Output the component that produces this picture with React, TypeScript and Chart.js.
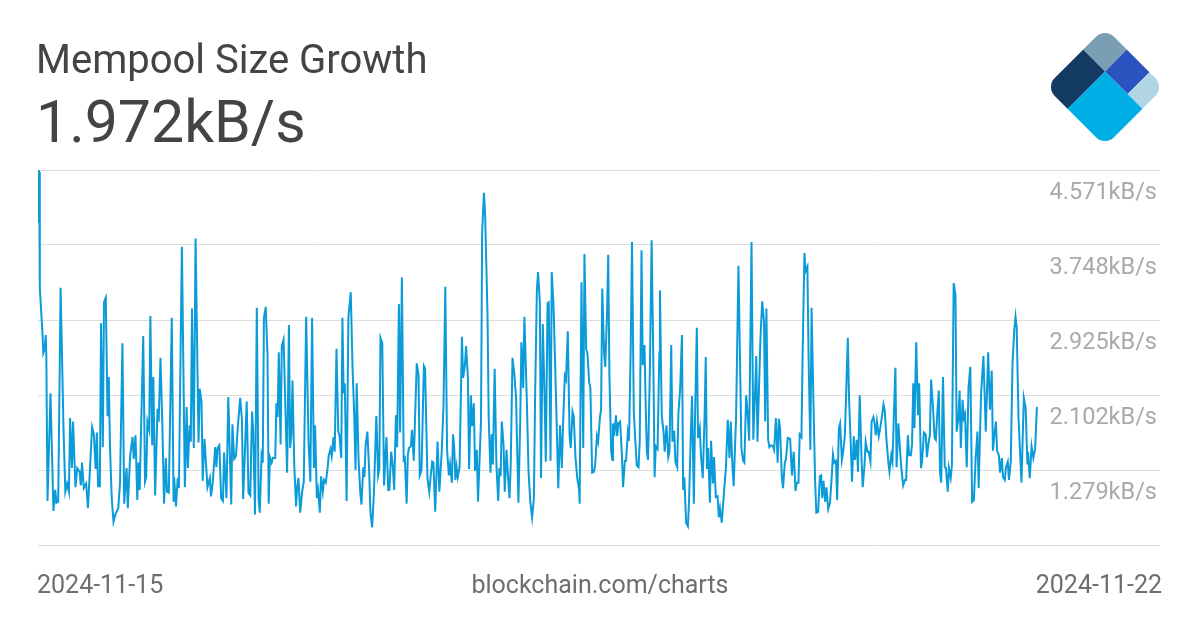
import React, { useEffect, useRef } from "react";
import { Chart, registerables } from "chart.js";

Chart.register(...registerables);

const chartTitle = "Mempool Size Growth";
const latestValueLabel = "1.972kB/s";
const startDateLabel = "2024-11-15";
const endDateLabel = "2024-11-22";
const sourceLabel = "blockchain.com/charts";

// y grid values (kB/s) and their labels; bottom grid line is unlabeled
const yTickValues = [0.456, 1.279, 2.102, 2.925, 3.748, 4.571];
const yTickLabels = ["", "1.279kB/s", "2.102kB/s", "2.925kB/s", "3.748kB/s", "4.571kB/s"];

// time axis: hours since 2024-11-15 00:00 (axis runs a little past the last sample)
const xAxisMaxHours = 188.7;

const hours = [
  0, 0.1, 0.2, 0.3, 0.7, 0.9, 1.1, 1.3, 1.4, 1.6,
  2.1, 2.6, 2.9, 3.1, 3.4, 3.8, 4.3, 4.6, 4.9, 5.2,
  5.4, 5.7, 5.9, 6.3, 6.6, 7.0, 7.2, 7.4, 7.7, 8.1,
  8.4, 9.1, 9.4, 9.7, 9.9, 10.1, 10.4, 10.6, 10.9, 11.1,
  11.4, 11.7, 11.9, 12.1, 12.4, 12.7, 13.0, 13.5, 13.8, 14.2,
  14.5, 14.9, 15.1, 15.5, 15.9, 16.1, 16.4, 16.7, 16.9, 17.1,
  17.7, 18.0, 18.2, 18.4, 18.7, 18.9, 19.2, 19.4, 19.7, 20.1,
  20.3, 20.6, 20.9, 21.2, 21.5, 21.7, 22.0, 22.5, 22.8, 22.9,
  23.2, 23.5, 23.7, 24.2, 24.7, 25.0, 25.2, 25.5, 25.7, 25.9,
  26.2, 26.5, 27.0, 27.2, 27.5, 27.7, 28.0, 28.5, 28.9, 29.1,
  29.4, 29.8, 30.0, 30.2, 30.5, 30.8, 31.1, 31.3, 31.7, 32.0,
  32.5, 32.7, 33.0, 33.3, 33.6, 34.0, 34.3, 34.5, 34.8, 35.1,
  35.4, 35.7, 36.0, 36.2, 36.5, 36.8, 37.1, 37.3, 37.6, 37.8,
  38.0, 38.3, 38.6, 38.8, 39.0, 39.3, 39.5, 39.9, 40.1, 40.3,
  40.5, 40.8, 41.0, 41.3, 41.6, 41.9, 42.2, 42.4, 42.6, 42.8,
  43.1, 43.4, 43.6, 43.8, 44.1, 44.4, 44.7, 45.1, 45.5, 45.8,
  46.1, 46.4, 46.6, 46.9, 47.1, 47.4, 47.6, 47.9, 48.1, 48.4,
  48.7, 48.9, 49.2, 49.4, 49.7, 49.9, 50.2, 50.5, 50.7, 51.0,
  51.2, 51.4, 51.6, 51.9, 52.2, 52.6, 52.9, 53.2, 53.4, 53.6,
  53.9, 54.2, 54.4, 54.7, 54.9, 55.1, 55.4, 55.7, 55.9, 56.2,
  56.5, 56.9, 57.2, 57.4, 57.6, 57.9, 58.2, 58.4, 58.6, 58.9,
  59.1, 59.4, 59.7, 59.9, 60.2, 60.4, 60.7, 60.9, 61.2, 61.5,
  61.7, 62.0, 62.2, 62.4, 62.7, 62.9, 63.2, 63.7, 64.0, 64.2,
  64.5, 64.9, 65.1, 65.5, 65.8, 66.0, 66.3, 66.5, 66.8, 67.2,
  67.5, 67.9, 68.2, 68.5, 68.8, 69.1, 69.3, 69.6, 69.8, 70.0,
  70.2, 70.4, 70.6, 70.9, 71.3, 71.5, 71.8, 72.0, 72.3, 72.5,
  72.8, 73.0, 73.3, 73.5, 73.8, 74.0, 74.5, 74.7, 75.0, 75.2,
  75.6, 75.8, 76.1, 76.3, 76.5, 76.8, 77.1, 77.4, 77.6, 77.8,
  78.0, 78.3, 78.5, 78.8, 79.0, 79.3, 79.5, 79.8, 80.1, 80.4,
  80.8, 81.1, 81.3, 81.6, 81.8, 82.2, 82.5, 82.8, 83.1, 83.4,
  83.6, 83.9, 84.1, 84.4, 84.6, 84.9, 85.2, 85.4, 85.7, 85.9,
  86.2, 86.4, 86.7, 87.1, 87.5, 87.8, 88.1, 88.3, 88.6,
  88.8, 89.1, 89.4, 89.6, 89.9, 90.1, 90.4, 90.7, 91.0, 91.1,
  91.4, 91.7, 91.9, 92.2, 92.4, 92.7, 92.9, 93.2, 93.5, 93.7,
  94.0, 94.2, 94.5, 94.7, 94.9, 95.2, 95.4, 95.7, 95.9, 96.1,
  96.4, 96.6, 96.7, 96.9, 97.2, 97.4, 97.6, 97.9, 98.2, 98.4,
  98.7, 98.9, 99.2, 99.4, 99.7, 99.9, 100.2, 100.5, 100.7, 101.0,
  101.2, 101.5, 101.7, 102.0, 102.2, 102.4, 102.6, 102.9, 103.2, 103.5,
  103.7, 103.9, 104.2, 104.5, 104.6, 104.9, 105.2, 105.4, 105.7, 106.0,
  106.2, 106.5, 106.7, 107.0, 107.2, 107.5, 107.7, 108.0, 108.3, 108.5,
  108.7, 109.0, 109.3, 109.5, 109.8, 110.0, 110.3, 110.5, 110.8, 111.0,
  111.3, 111.5, 111.8, 112.1, 112.3, 112.5, 112.7, 113.0, 113.2, 113.5,
  113.7, 114.0, 114.3, 114.5, 114.7, 115.0, 115.3, 115.7, 116.0, 116.3,
  116.5, 116.8, 117.0, 117.4, 117.8, 118.1, 118.3, 118.6, 118.8, 119.1,
  119.4, 119.6, 120.0, 120.3, 120.6, 120.8, 121.0, 121.5, 121.8, 122.1,
  122.3, 122.5, 122.8, 123.0, 123.3, 123.6, 123.8, 124.1, 124.4, 124.6,
  124.8, 125.1, 125.3, 125.6, 125.8, 126.1, 126.5, 126.8, 127.1, 127.4,
  127.6, 127.9, 128.1, 128.4, 128.6, 128.9, 129.1, 129.4, 129.6, 129.9,
  130.1, 130.4, 130.7, 130.9, 131.2, 131.5, 131.7, 131.9, 132.1, 132.4,
  132.6, 132.9, 133.2, 133.5, 133.7, 133.9, 134.2, 134.4, 134.7, 134.9,
  135.2, 135.4, 135.7, 136.2, 136.4, 136.7, 136.9, 137.2, 137.4, 137.7,
  137.9, 138.2, 138.5, 138.7, 139.0, 139.2, 139.5, 139.7, 140.0, 140.2,
  140.5, 140.7, 140.9, 141.1, 141.4, 141.6, 141.9, 142.2, 142.4, 142.7,
  143.0, 143.2, 143.5, 143.7, 144.2, 144.4, 144.7, 145.0, 145.2, 145.5,
  145.8, 146.0, 146.3, 146.5, 146.8, 147.0, 147.2, 147.4, 147.7, 148.0,
  148.2, 148.5, 148.7, 149.0, 149.3, 149.5, 149.8, 150.0, 150.2, 150.5,
  150.8, 151.0, 151.3, 151.5, 151.7, 151.9, 152.2, 152.5, 152.7, 153.0,
  153.2, 153.5, 153.7, 154.0, 154.3, 154.5, 154.8, 155.0, 155.2, 155.5,
  155.7, 155.9, 156.2, 156.5, 156.8, 157.1, 157.4, 157.7, 158.0, 158.2,
  158.6, 159.0, 159.4, 159.8, 160.1, 160.4, 160.6, 160.9, 161.1, 161.3,
  161.6, 161.8, 162.1, 162.3, 162.6, 162.8, 163.1, 163.3, 163.6, 163.9,
  164.2, 164.4, 164.6, 164.9, 165.4, 165.8, 166.1, 166.4, 166.5, 166.8,
  167.1, 167.4, 167.7, 168.0,
];

// mempool size growth, kB/s
const growthKBs = [
  4.00, 4.57, 4.55, 3.28, 2.84, 2.56, 2.60, 2.76, 2.54, 0.94,
  2.12, 0.83, 1.06, 0.92, 0.93, 3.28, 1.70, 1.04, 1.13, 1.04,
  1.85, 1.30, 1.81, 1.09, 1.30, 1.26, 1.11, 1.36, 1.08, 1.13,
  0.86, 1.75, 1.67, 1.29, 1.69, 1.10, 1.10, 2.89, 1.53, 3.12,
  3.17, 1.87, 2.30, 1.55, 0.97, 0.71, 0.79, 0.86, 1.15, 2.67,
  0.91, 1.30, 0.86, 1.44, 1.64, 1.40, 1.66, 0.95, 1.36, 1.06,
  2.75, 1.15, 1.20, 1.81, 1.72, 2.97, 1.55, 2.30, 1.00, 1.95,
  1.81, 2.51, 1.81, 0.91, 1.41, 1.04, 1.03, 2.95, 0.93, 1.20,
  0.88, 1.19, 1.08, 3.73, 1.09, 1.97, 1.30, 1.77, 1.59, 3.05,
  1.52, 3.82, 1.58, 2.17, 2.03, 1.16, 1.62, 1.09, 1.19, 0.99,
  1.15, 1.53, 1.31, 1.52, 1.55, 0.97, 0.94, 1.47, 0.97, 2.08,
  0.90, 1.78, 1.40, 1.43, 1.75, 2.07, 1.83, 0.96, 1.48, 2.03,
  1.03, 1.00, 1.92, 1.70, 0.79, 3.06, 0.97, 0.81, 1.43, 1.36,
  2.95, 3.07, 2.54, 0.91, 1.42, 1.36, 1.41, 1.41, 2.01, 1.86,
  2.57, 1.56, 2.64, 2.71, 1.99, 1.25, 2.87, 1.52, 1.66, 2.26,
  1.33, 0.88, 1.10, 1.19, 0.81, 1.03, 1.15, 2.96, 1.58, 1.15,
  2.95, 1.30, 1.77, 0.97, 1.06, 0.81, 1.21, 1.04, 1.17, 1.14,
  1.30, 1.44, 1.51, 1.43, 1.64, 1.48, 2.61, 1.70, 1.66, 1.41,
  2.95, 2.12, 2.23, 0.94, 2.95, 3.23, 2.40, 1.85, 1.28, 2.23,
  1.41, 1.03, 0.90, 1.31, 1.20, 1.55, 1.70, 1.26, 0.82, 0.65,
  1.04, 1.87, 1.22, 1.29, 2.73, 2.67, 1.11, 1.39, 1.64, 1.06,
  1.06, 1.48, 1.30, 1.06, 1.88, 1.53, 3.10, 1.69, 3.39, 1.39,
  1.41, 0.91, 1.45, 1.52, 1.54, 1.72, 1.38, 2.45, 2.32, 1.22,
  1.28, 2.42, 2.39, 1.19, 1.04, 1.18, 1.37, 1.36, 0.82, 1.59,
  1.04, 1.48, 1.99, 3.29, 1.50, 1.22, 1.34, 1.14, 1.67, 1.52,
  1.17, 1.31, 1.20, 1.31, 2.74, 2.29, 2.43, 2.64, 2.29, 1.29,
  2.10, 1.76, 2.01, 1.27, 1.50, 0.93, 1.81, 3.89, 4.32, 4.08,
  2.98, 1.85, 1.25, 1.67, 1.34, 2.39, 1.33, 0.94, 1.30, 1.21,
  1.81, 1.55, 1.04, 1.50, 1.25, 0.97, 1.33, 2.51, 2.34, 2.07,
  0.92, 1.81, 2.68, 2.18, 2.96, 2.07, 1.26, 0.93, 0.76, 0.97,
  2.07, 3.25, 3.45, 3.12, 1.19, 2.88, 2.07, 1.37, 3.11, 3.12,
  1.38, 3.45, 3.09, 2.13, 1.08, 1.77, 1.30, 1.77, 2.31,
  2.27, 2.80, 1.66, 1.52, 1.92, 1.87, 1.41, 1.19, 1.06, 0.91,
  3.34, 1.52, 3.65, 2.60, 2.56, 2.24, 2.18, 1.25, 1.26, 1.33,
  1.65, 1.59, 1.85, 1.94, 3.27, 2.57, 2.41, 3.00, 3.64, 2.32,
  1.48, 1.39, 1.79, 1.65, 1.88, 1.65, 1.79, 1.81, 1.44, 1.09,
  1.38, 1.38, 1.69, 1.60, 2.68, 3.78, 1.92, 1.55, 1.33, 1.31,
  1.59, 3.69, 2.43, 2.65, 1.99, 1.48, 1.39, 2.35, 3.80, 2.40,
  1.20, 1.54, 1.51, 2.57, 3.25, 1.88, 1.70, 1.48, 1.77, 1.42,
  1.48, 2.65, 1.59, 1.71, 1.37, 1.31, 1.90, 2.17, 2.76, 1.06,
  1.20, 0.70, 0.66, 0.95, 1.70, 2.09, 0.91, 1.85, 2.84, 1.63,
  1.74, 1.44, 1.19, 1.85, 2.52, 1.29, 1.52, 0.92, 1.60, 1.13,
  1.42, 0.98, 0.99, 0.76, 0.86, 0.70, 0.97, 1.31, 1.83, 1.41,
  1.81, 1.31, 1.10, 1.85, 3.52, 2.35, 1.52, 1.38, 1.36, 2.10,
  1.85, 1.60, 3.78, 1.61, 2.13, 2.53, 1.59, 2.72, 3.13, 2.90,
  1.81, 3.05, 1.61, 1.53, 1.55, 1.54, 1.50, 1.85, 1.36, 1.84,
  1.74, 1.20, 1.08, 1.36, 1.40, 1.63, 1.62, 1.22, 1.48, 1.05,
  1.14, 1.14, 1.67, 1.64, 2.57, 3.66, 3.46, 3.51, 2.51, 1.50,
  3.06, 2.07, 1.15, 0.81, 0.82, 1.21, 1.22, 0.97, 1.16, 0.93,
  1.09, 0.85, 0.92, 1.22, 1.45, 1.36, 1.38, 0.95, 1.74, 1.79,
  1.39, 1.47, 1.66, 2.73, 2.07, 1.55, 1.15, 1.65, 1.39, 1.61,
  1.26, 2.10, 1.41, 1.09, 1.33, 1.59, 1.48, 1.48, 1.37, 1.81,
  1.86, 1.79, 1.66, 1.81, 1.65, 1.72, 1.85, 2.00, 1.94, 1.61,
  1.37, 1.26, 1.44, 1.37, 2.40, 1.31, 1.79, 1.48, 1.30, 1.11,
  1.17, 1.17, 1.66, 1.44, 1.44, 1.56, 2.23, 1.74, 2.68, 1.88,
  2.23, 1.30, 1.39, 1.69, 1.67, 1.42, 1.59, 1.66, 2.27, 1.99,
  1.63, 1.61, 1.96, 2.15, 1.26, 1.14, 2.30, 1.31, 1.30, 1.04,
  1.30, 1.19, 1.33, 3.33, 3.20, 1.70, 1.85, 2.15, 1.52, 2.05,
  1.85, 1.89, 1.31, 2.19, 2.41, 0.93, 0.95, 1.41, 1.70, 1.08,
  2.10, 2.53, 1.70, 2.57, 1.94, 2.37, 1.49, 1.70, 1.81, 1.49,
  1.44, 1.25, 1.41, 1.20, 1.17, 1.31, 1.37, 1.17, 1.37, 2.46,
  2.82, 2.96, 2.84, 1.86, 1.14, 2.07, 1.96, 1.34, 1.48, 1.19,
  1.54, 1.41, 1.51, 1.972,
];

const FONT = "Roboto, 'Noto Sans', Arial, sans-serif";

const yLabelPlugin = {
  id: "yLabelsBelowGrid",
  afterDraw(chart: any) {
    const { ctx, chartArea, scales } = chart;
    const y = scales.y;
    ctx.save();
    ctx.font = `23.5px ${FONT}`;
    ctx.fillStyle = "#aaaaaa";
    ctx.textAlign = "right";
    ctx.textBaseline = "alphabetic";
    yTickValues.forEach((v, i) => {
      const label = yTickLabels[i];
      if (!label) return;
      ctx.fillText(label, chartArea.right - 3, y.getPixelForValue(v) + 29);
    });
    ctx.restore();
  },
};

function Logo() {
  return (
    <svg
      width={1200}
      height={630}
      style={{ position: "absolute", left: 0, top: 0, pointerEvents: "none" }}
    >
      <defs>
        <clipPath id="logoClip">
          <rect x={0} y={0} width={84} height={84} rx={13} ry={13} />
        </clipPath>
      </defs>
      <g transform="translate(1105,87) rotate(45) translate(-42,-42)">
        <g clipPath="url(#logoClip)">
          <rect x={0} y={0} width={31} height={31} fill="#7a9fb4" />
          <rect x={31} y={0} width={32} height={31} fill="#2b53bf" />
          <rect x={63} y={0} width={21} height={31} fill="#b2d5e6" />
          <rect x={0} y={31} width={31} height={53} fill="#133a63" />
          <rect x={31} y={31} width={53} height={53} fill="#00aee6" />
        </g>
      </g>
    </svg>
  );
}

export default function App() {
  const canvasRef = useRef<HTMLCanvasElement | null>(null);

  useEffect(() => {
    document.body.style.margin = "0";
    const canvas = canvasRef.current;
    if (!canvas) return;
    const n = Math.min(hours.length, growthKBs.length);
    const points = [];
    for (let i = 0; i < n; i++) points.push({ x: hours[i], y: growthKBs[i] });

    const chart = new Chart(canvas, {
      type: "line",
      data: {
        datasets: [
          {
            data: points,
            borderColor: "#0a9bd8",
            borderWidth: 2,
            pointRadius: 0,
            tension: 0,
            fill: false,
          },
        ],
      },
      options: {
        animation: false,
        responsive: false,
        maintainAspectRatio: false,
        layout: { padding: { left: 38, right: 40, top: 170, bottom: 85 } },
        plugins: { legend: { display: false }, tooltip: { enabled: false } },
        scales: {
          x: {
            type: "linear",
            min: 0,
            max: xAxisMaxHours,
            display: false,
          },
          y: {
            type: "linear",
            position: "right",
            min: yTickValues[0],
            max: yTickValues[yTickValues.length - 1],
            afterBuildTicks: (scale: any) => {
              scale.ticks = yTickValues.map((v) => ({ value: v }));
            },
            afterFit: (scale: any) => {
              scale.width = 0;
            },
            ticks: { display: false },
            border: { display: false },
            grid: { color: "#dddddd", lineWidth: 1, drawTicks: false },
          },
        },
      },
      plugins: [yLabelPlugin],
    });
    return () => chart.destroy();
  }, []);

  const textBase: React.CSSProperties = {
    position: "absolute",
    fontFamily: FONT,
    lineHeight: 1,
    whiteSpace: "nowrap",
    margin: 0,
  };

  return (
    <div
      style={{
        position: "absolute",
        left: 0,
        top: 0,
        width: 1200,
        height: 630,
        background: "#ffffff",
        overflow: "hidden",
      }}
    >
      <canvas
        ref={canvasRef}
        width={1200}
        height={630}
        style={{ position: "absolute", left: 0, top: 0, width: 1200, height: 630 }}
      />
      <div style={{ ...textBase, left: 36, top: 40, fontSize: 40, color: "#444444" }}>
        {chartTitle}
      </div>
      <div style={{ ...textBase, left: 36, top: 92, fontSize: 59, color: "#444444" }}>
        {latestValueLabel}
      </div>
      <div style={{ ...textBase, left: 37, top: 572, fontSize: 25, color: "#6e6e6e" }}>
        {startDateLabel}
      </div>
      <div
        style={{
          ...textBase,
          left: 0,
          width: 1200,
          textAlign: "center",
          top: 572,
          fontSize: 25,
          color: "#6e6e6e",
        }}
      >
        {sourceLabel}
      </div>
      <div style={{ ...textBase, right: 38, top: 572, fontSize: 25, color: "#6e6e6e" }}>
        {endDateLabel}
      </div>
      <Logo />
    </div>
  );
}
